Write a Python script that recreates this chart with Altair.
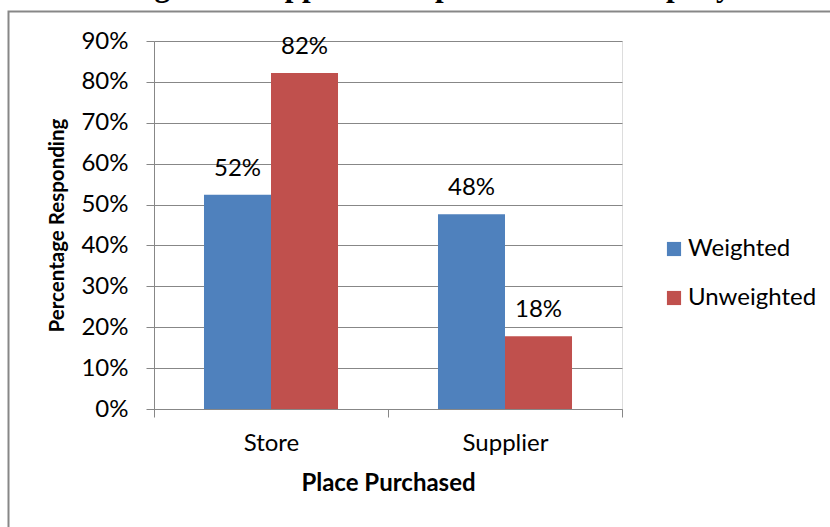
import altair as alt
import pandas as pd

places = ["Store", "Supplier"]
weighted = [0.524, 0.476]
unweighted = [0.822, 0.178]
series = ["Weighted", "Unweighted"]
labels_w = ["52%", "48%"]
labels_u = ["82%", "18%"]
title_text = "Purchasing from Supplier Compared to the Company Store"

rows = []
for i, p in enumerate(places):
    rows.append({"place": p, "series": "Weighted", "value": weighted[i], "label": labels_w[i]})
    rows.append({"place": p, "series": "Unweighted", "value": unweighted[i], "label": labels_u[i]})
df = pd.DataFrame(rows)

GRAY = "#878787"
FONT = "Lato"
FS = 24

x_enc = alt.X("place:N", sort=places, title="Place Purchased",
              scale=alt.Scale(paddingInner=0, paddingOuter=0),
              axis=alt.Axis(labelAngle=0, tickBand="extent", grid=False,
                            domainColor=GRAY, tickColor=GRAY, tickSize=8,
                            labelFont=FONT, labelFontSize=FS, labelColor="black",
                            labelPadding=14,
                            titleFont=FONT, titleFontSize=FS, titleFontWeight="bold",
                            titleColor="black", titlePadding=16))
y_enc = alt.Y("value:Q", title="Percentage Responding",
              scale=alt.Scale(domain=[0, 0.9], nice=False),
              axis=alt.Axis(format=".0%", values=[i / 10 for i in range(10)],
                            grid=True, gridColor=GRAY, gridOpacity=1,
                            domainColor=GRAY, tickColor=GRAY, tickSize=8,
                            labelFont=FONT, labelFontSize=FS, labelColor="black",
                            labelPadding=18,
                            titleFont=FONT, titleFontSize=20.5, titleFontWeight="bold",
                            titleColor="black", titlePadding=13))
xo = alt.XOffset("series:N", sort=series,
                 scale=alt.Scale(paddingInner=0, paddingOuter=0.746))
color = alt.Color("series:N", sort=series,
                  scale=alt.Scale(domain=series, range=["#4F81BD", "#C0504D"]),
                  legend=alt.Legend(title=None, orient="none", legendX=508, legendY=196,
                                    symbolType="square", symbolSize=200,
                                    symbolStrokeWidth=0, labelFont=FONT,
                                    labelFontSize=FS, labelColor="black",
                                    rowPadding=25, labelOffset=2))

bars = alt.Chart(df).mark_bar().encode(x=x_enc, y=y_enc, xOffset=xo, color=color)
text = alt.Chart(df).mark_text(baseline="alphabetic", dy=-19, font=FONT, fontSize=FS,
                               color="black").encode(
    x=alt.X("place:N", sort=places), xOffset=xo, y="value:Q", text="label:N")

frame = alt.Chart(pd.DataFrame({"a": [0]})).mark_rect(
    fill=None, stroke=GRAY, strokeWidth=2).encode(
    x=alt.value(8.5 - 154), x2=alt.value(900 - 154),
    y=alt.value(11.5 - 41), y2=alt.value(600 - 41))

title = alt.Chart(pd.DataFrame({"a": [0]})).mark_text(
    font="Liberation Serif", fontSize=31, fontWeight="bold", align="center",
    baseline="alphabetic", color="black").encode(
    x=alt.value(415 - 154), y=alt.value(-4 - 41), text=alt.value(title_text))

chart = alt.layer(frame, bars, text, title).properties(
    width=468, height=368,
    autosize=alt.AutoSizeParams(type="none"),
    padding={"left": 154, "top": 41, "right": 208, "bottom": 118},
).configure_view(stroke=None).configure(background="white")

chart.save("out.html", embed_options={"renderer": "svg", "actions": False})
